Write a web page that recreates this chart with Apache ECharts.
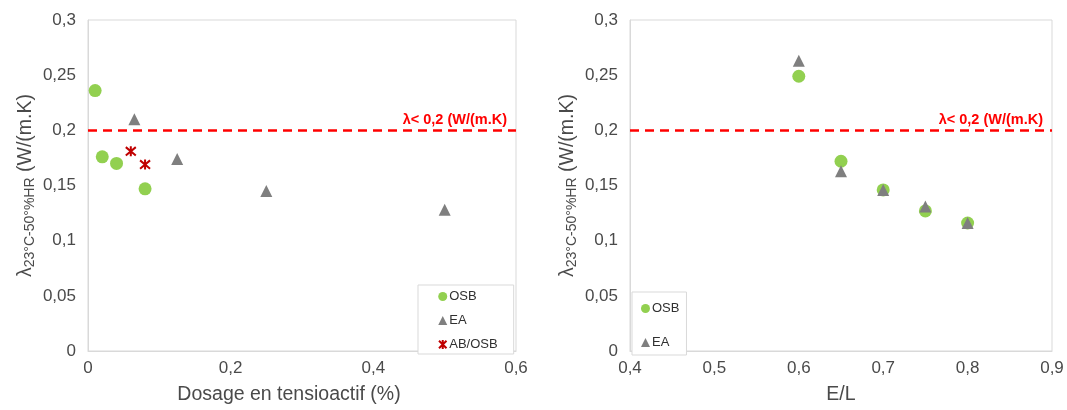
<!DOCTYPE html>
<html><head><meta charset="utf-8">
<script src="https://cdn.jsdelivr.net/npm/echarts@6/dist/echarts.min.js"></script>
<style>html,body{margin:0;padding:0;background:#fff}#c{width:1067px;height:410px}</style>
</head><body><div id="c"></div>
<script>
// Left chart: lambda vs surfactant dosage
const leftOSB_x = [0.01, 0.02, 0.04, 0.08];
const leftOSB_y = [0.236, 0.176, 0.170, 0.147];
const leftEA_x = [0.065, 0.125, 0.25, 0.5];
const leftEA_y = [0.210, 0.174, 0.145, 0.128];
const leftAB_x = [0.06, 0.08];
const leftAB_y = [0.181, 0.169];
// Right chart: lambda vs E/L
const rightOSB_x = [0.6, 0.65, 0.7, 0.75, 0.8];
const rightOSB_y = [0.249, 0.172, 0.146, 0.127, 0.116];
const rightEA_x = [0.6, 0.65, 0.7, 0.75, 0.8];
const rightEA_y = [0.263, 0.163, 0.146, 0.131, 0.116];
const threshold = 0.2;
const thresholdLabel = 'λ< 0,2 (W/(m.K)';
const seriesNames = ['OSB', 'EA', 'AB/OSB'];
const xTitleLeft = 'Dosage en tensioactif (%)';
const xTitleRight = 'E/L';

const zip = (xs, ys) => xs.map((x, i) => [x, ys[i]]);
const fmt = v => String(+(+v).toFixed(2)).replace('.', ',');
const FONT = 'Liberation Sans, Arial, sans-serif';
const TXT = '#4a4a4a';
const GRIDC = '#d9d9d9';
const starPath = 'path://M0,0L10,10M10,0L0,10M5,-1L5,11';

function xAxis(idx, min, max, interval, name, pad) {
  return {
    type: 'value', gridIndex: idx, min, max, interval,
    axisLine: {show: true, lineStyle: {color: GRIDC}},
    axisTick: {show: false}, splitLine: {show: false},
    axisLabel: {formatter: fmt, color: TXT, fontSize: 17, fontFamily: FONT, margin: 9},
    name, nameLocation: 'middle', nameGap: 34,
    nameTextStyle: {color: TXT, fontSize: 19.5, fontFamily: FONT, padding: pad}
  };
}
function yAxis(idx) {
  return {
    type: 'value', gridIndex: idx, min: 0, max: 0.3, interval: 0.05,
    axisLine: {show: true, lineStyle: {color: GRIDC}},
    axisTick: {show: false}, splitLine: {show: false},
    axisLabel: {formatter: fmt, color: TXT, fontSize: 17, fontFamily: FONT, margin: 12},
    name: '{l|λ}{s|23°C-50°%HR}{l| (W/(m.K)}',
    nameLocation: 'middle', nameRotate: 90, nameGap: 51,
    nameTextStyle: {
      color: TXT, fontFamily: FONT,
      rich: {
        l: {fontSize: 19.5, color: TXT, fontFamily: FONT, lineHeight: 23},
        s: {fontSize: 14, color: TXT, fontFamily: FONT, lineHeight: 15, verticalAlign: 'bottom'}
      }
    }
  };
}
function markLine() {
  return {
    silent: true, symbol: 'none',
    lineStyle: {color: '#ff0000', type: [9, 6], width: 2.5},
    label: {show: true, position: 'insideEndTop', formatter: thresholdLabel,
      color: '#ff0000', fontWeight: 'bold', fontSize: 14.5, fontFamily: FONT, distance: [9, 3]},
    data: [{yAxis: threshold}]
  };
}
const osbStyle = {symbol: 'circle', symbolSize: 13, itemStyle: {color: '#92d050', opacity: 1}};
const eaStyle = {symbol: 'triangle', symbolSize: 12, itemStyle: {color: '#7f7f7f', opacity: 1}};
const abStyle = {symbol: starPath, symbolSize: 10,
  itemStyle: {color: 'rgba(0,0,0,0)', borderColor: '#c00000', borderWidth: 2, opacity: 1}};

const option = {
  animation: false,
  backgroundColor: '#fff',
  textStyle: {fontFamily: FONT},
  grid: [
    {left: 88, right: 551, top: 20, bottom: 58, show: true, borderColor: GRIDC, borderWidth: 1},
    {left: 630, right: 15, top: 20, bottom: 56, show: true, borderColor: GRIDC, borderWidth: 1}
  ],
  xAxis: [
    xAxis(0, 0, 0.6, 0.2, xTitleLeft, [0, 26, 0, 0]),
    xAxis(1, 0.4, 0.9, 0.1, xTitleRight, [0, 0, 0, 0])
  ],
  yAxis: [yAxis(0), yAxis(1)],
  legend: [
    {
      orient: 'vertical', left: 418, top: 285,
      padding: [5, 16, 3, 20], itemGap: 11, itemWidth: 9, itemHeight: 9,
      borderColor: GRIDC, borderWidth: 1, backgroundColor: '#fff',
      textStyle: {color: '#303030', fontSize: 13, fontFamily: FONT, padding: [0, 0, 0, -3]},
      data: seriesNames
    },
    {
      orient: 'vertical', left: 632, top: 292,
      padding: [10, 7, 6, 9], itemGap: 21, itemWidth: 9, itemHeight: 9,
      borderColor: GRIDC, borderWidth: 1, backgroundColor: '#fff',
      textStyle: {color: '#303030', fontSize: 13, fontFamily: FONT, padding: [0, 0, 0, -3]},
      data: seriesNames.slice(0, 2)
    }
  ],
  series: [
    Object.assign({type: 'scatter', name: seriesNames[0], xAxisIndex: 0, yAxisIndex: 0,
      data: zip(leftOSB_x, leftOSB_y), markLine: markLine()}, osbStyle),
    Object.assign({type: 'scatter', name: seriesNames[1], xAxisIndex: 0, yAxisIndex: 0,
      data: zip(leftEA_x, leftEA_y)}, eaStyle),
    Object.assign({type: 'scatter', name: seriesNames[2], xAxisIndex: 0, yAxisIndex: 0,
      data: zip(leftAB_x, leftAB_y)}, abStyle),
    Object.assign({type: 'scatter', name: seriesNames[0], xAxisIndex: 1, yAxisIndex: 1,
      data: zip(rightOSB_x, rightOSB_y), markLine: markLine()}, osbStyle),
    Object.assign({type: 'scatter', name: seriesNames[1], xAxisIndex: 1, yAxisIndex: 1,
      data: zip(rightEA_x, rightEA_y)}, eaStyle)
  ]
};
echarts.init(document.getElementById('c'), null, {renderer: 'canvas'}).setOption(option);
</script></body></html>
